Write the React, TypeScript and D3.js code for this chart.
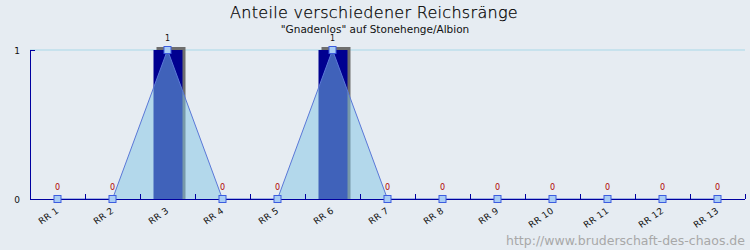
import * as d3 from "d3";
import { useEffect, useRef } from "react";

const categories = [
  "RR 1", "RR 2", "RR 3", "RR 4", "RR 5", "RR 6", "RR 7",
  "RR 8", "RR 9", "RR 10", "RR 11", "RR 12", "RR 13",
];
const values = [0, 0, 1, 0, 0, 1, 0, 0, 0, 0, 0, 0, 0];
const yTicks = [0, 1];

const title = "Anteile verschiedener Reichsränge";
const subtitle = '"Gnadenlos" auf Stonehenge/Albion';
const watermark = "http://www.bruderschaft-des-chaos.de";

const App = () => {
  const ref = useRef(null);

  useEffect(() => {
    var width = 750;
    var height = 250;
    var left = 30;
    var right = 745;
    var top = 50;
    var bottom = 199;
    var font = "DejaVu Sans, sans-serif";

    var svg = d3
      .select(ref.current)
      .append("svg")
      .attr("width", width)
      .attr("height", height)
      .style("display", "block");

    svg.append("rect").attr("width", width).attr("height", height).attr("fill", "#e6ecf2");

    var x = d3.scaleBand().domain(categories).range([left, right]);
    var y = d3.scaleLinear().domain([0, 1]).range([bottom, top]);
    var cx = (c: string) => (x(c) as number) + x.bandwidth() / 2;
    var barW = 29;

    // titles
    svg.append("text").text(title)
      .attr("x", 374).attr("y", 18).attr("text-anchor", "middle")
      .style("font-family", font).style("font-size", "16px")
      .style("font-weight", 300)
      .style("letter-spacing", "0.3px")
      .attr("fill", "#000")
      .attr("stroke", "#000")
      .attr("stroke-width", 0.25);
    svg.append("text").text(subtitle)
      .attr("x", 375).attr("y", 33).attr("text-anchor", "middle")
      .style("font-family", font).style("font-size", "10.5px")
      .attr("fill", "#111");

    // grid line at top tick
    svg.append("line")
      .attr("x1", left).attr("x2", right)
      .attr("y1", y(1)).attr("y2", y(1))
      .attr("stroke", "#a8d8e8").attr("stroke-width", 1);

    var data = categories.map((c, i) => ({ key: c, value: values[i] }));

    // bars with shadow
    svg.selectAll("shadow")
      .data(data.filter((d) => d.value > 0))
      .enter()
      .append("rect")
      .attr("x", (d) => cx(d.key) - barW / 2 + 3.5)
      .attr("y", (d) => y(d.value) - 3)
      .attr("width", barW)
      .attr("height", (d) => y(0) - y(d.value) + 3)
      .attr("fill", "#6e6e6e");
    svg.selectAll("bars")
      .data(data.filter((d) => d.value > 0))
      .enter()
      .append("rect")
      .attr("x", (d) => cx(d.key) - barW / 2 + 0.5)
      .attr("y", (d) => y(d.value))
      .attr("width", barW)
      .attr("height", (d) => y(0) - y(d.value))
      .attr("fill", "#000090");

    // area + line
    var area = d3.area<any>()
      .x((d) => cx(d.key))
      .y0(y(0))
      .y1((d) => y(d.value));
    svg.append("path")
      .attr("d", area(data) as string)
      .attr("fill", "rgb(128,196,228)")
      .attr("fill-opacity", 0.5);
    var line = d3.line<any>()
      .x((d) => cx(d.key))
      .y((d) => y(d.value));
    svg.append("path")
      .attr("d", line(data) as string)
      .attr("fill", "none")
      .attr("stroke", "#5a78d8")
      .attr("stroke-width", 1);

    // axes
    var axis = svg.append("g").attr("stroke", "#0000a0").attr("stroke-width", 1).attr("shape-rendering", "crispEdges");
    axis.append("line").attr("x1", left).attr("x2", left).attr("y1", top).attr("y2", bottom);
    axis.append("line").attr("x1", left).attr("x2", left + 5).attr("y1", top).attr("y2", top);
    axis.append("line").attr("x1", left).attr("x2", right).attr("y1", bottom).attr("y2", bottom);
    var bounds = categories.map((c) => (x(c) as number) + x.bandwidth()).slice(0, -1);
    bounds.push(right);
    axis.selectAll("ticks")
      .data(bounds)
      .enter()
      .append("line")
      .attr("x1", (d) => d).attr("x2", (d) => d)
      .attr("y1", bottom).attr("y2", bottom - 5);

    svg.selectAll("ylabels")
      .data(yTicks)
      .enter()
      .append("text")
      .text((d) => String(d))
      .attr("x", 20).attr("y", (d) => y(d) + 4)
      .attr("text-anchor", "end")
      .style("font-family", font).style("font-size", "9px")
      .attr("fill", "#111");

    // markers
    svg.selectAll("markers")
      .data(data)
      .enter()
      .append("rect")
      .attr("x", (d) => cx(d.key) - 3.5)
      .attr("y", (d) => y(d.value) - 3.5)
      .attr("width", 7).attr("height", 7)
      .attr("fill", "#a8ccf4")
      .attr("stroke", "#3c5ce0")
      .attr("stroke-width", 1);

    // value labels
    svg.selectAll("vlabels")
      .data(data)
      .enter()
      .append("text")
      .text((d) => String(d.value))
      .attr("x", (d) => cx(d.key))
      .attr("y", (d) => y(d.value) - 9)
      .attr("text-anchor", "middle")
      .style("font-family", font).style("font-size", "8px")
      .attr("fill", (d) => (d.value > 0 ? "#111" : "#b00000"));

    // category labels
    svg.selectAll("xlabels")
      .data(categories)
      .enter()
      .append("text")
      .text((d) => d)
      .attr("text-anchor", "end")
      .attr("transform", (d) => "translate(" + (cx(d) + 2) + "," + (bottom + 13) + ") rotate(-35)")
      .style("font-family", font).style("font-size", "9px")
      .style("letter-spacing", "0.3px")
      .attr("fill", "#111");

    svg.append("text").text(watermark)
      .attr("x", 745).attr("y", 245).attr("text-anchor", "end")
      .style("font-family", font).style("font-size", "12.5px")
      .attr("fill", "#a8a8a8");

    return function () {
      svg.remove();
    };
  }, []);

  return <div ref={ref} style={{ position: "absolute", left: 0, top: 0 }} />;
};

export default App;
